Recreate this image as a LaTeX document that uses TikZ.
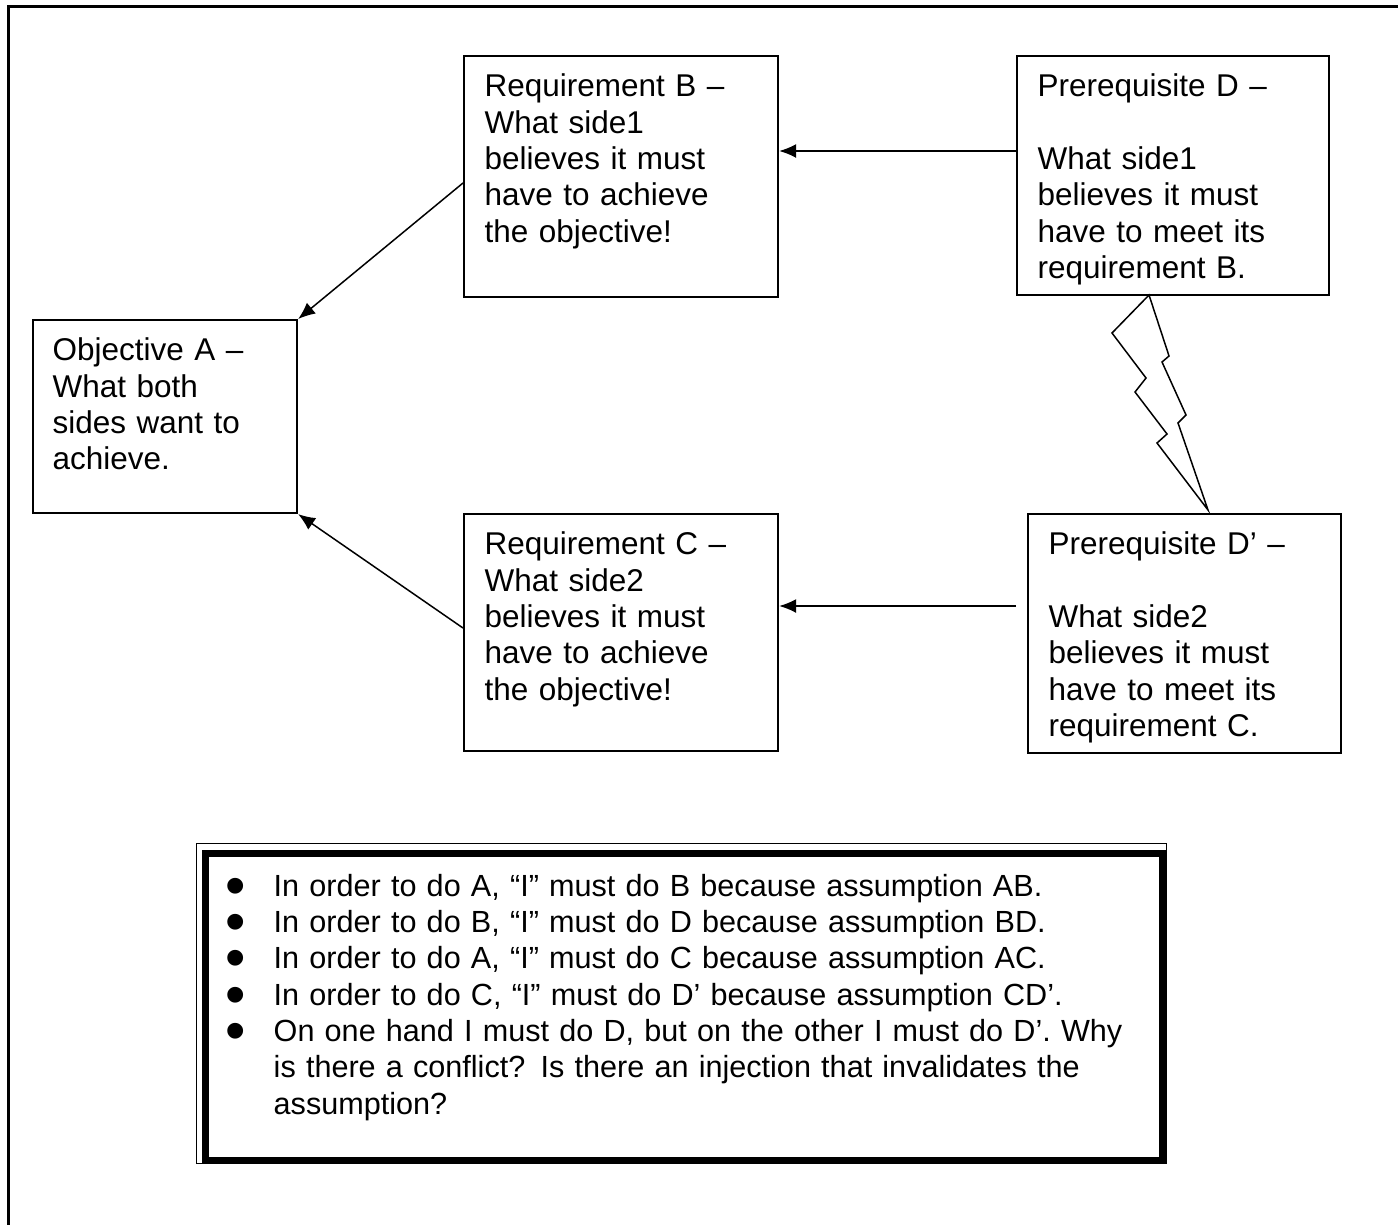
\documentclass[tikz,border=0pt]{standalone}
\usepackage{fontspec}
\usepackage{graphicx}
\setmainfont{Liberation Sans}
\usetikzlibrary{arrows.meta}
\newcommand\listmark{\makebox[0.48cm][l]{\raisebox{-0.09cm}{\scalebox{1.9}{\textbullet}}}}
\newcommand\listgap{\hspace*{0.48cm}}
\begin{document}
\begin{tikzpicture}[x=0.01cm,y=-0.01cm,
  box/.style={draw, line width=0.02cm, anchor=north west, inner sep=0pt},
  txt/.style={anchor=north west, inner sep=0pt, align=left, text width=3.4cm,
    font=\fontsize{8.95}{10.33}\selectfont},
  arr/.style={line width=0.015cm, -{Latex[length=0.17cm,width=0.14cm]}},
  bolt/.style={line width=0.015cm, line join=miter},
]
\useasboundingbox (0,0) rectangle (1398,1224);
\clip (0,0) rectangle (1398,1224);

% page frame (only its top and left sides fall inside the picture)
\draw[line width=0.028cm] (8.3,6.7) rectangle (1430,1250);

% boxes
\node[box, minimum width=3.14cm, minimum height=2.41cm] (B) at (463,55) {};
\node[box, minimum width=3.12cm, minimum height=2.39cm] (D) at (1016,55) {};
\node[box, minimum width=2.64cm, minimum height=1.93cm] (A) at (32,319) {};
\node[box, minimum width=3.14cm, minimum height=2.37cm] (C) at (463,513) {};
\node[box, minimum width=3.13cm, minimum height=2.39cm] (Dp) at (1027,513) {};

% box texts
\node[txt] (Bt) at (484,70.6) {\strut Requirement B –\\What side1\\believes it must\\have to achieve\\the objective!};
\node[txt] (Dt) at (1037,70.6) {\strut Prerequisite D –\\[10.33pt]What side1\\believes it must\\have to meet its\\requirement B.};
\node[txt] (At) at (52,334.6) {\strut Objective A –\\What both\\sides want to\\achieve.};
\node[txt] (Ct) at (484,528.6) {\strut Requirement C –\\What side2\\believes it must\\have to achieve\\the objective!};
\node[txt] (Dpt) at (1048,528.6) {\strut Prerequisite D’ –\\[10.33pt]What side2\\believes it must\\have to meet its\\requirement C.};

% connectors
\coordinate (yDB) at (0,151);
\coordinate (yDC) at (0,606);
\coordinate (yBA) at (0,183);
\coordinate (yCA) at (0,628);
\coordinate (DpGap) at ([xshift=-0.11cm]Dp.west);
\draw[arr] (D.west |- yDB) -- (B.east |- yDB);
\draw[arr] (DpGap |- yDC) -- (C.east |- yDC);
\draw[arr] (B.west |- yBA) -- (A.north east);
\draw[arr] (C.west |- yCA) -- (A.south east);

% conflict bolt between D and D'
\draw[bolt] (1149,295) -- (1112,333) -- (1146,378) -- (1135,392) -- (1167,434)
  -- (1157,443) -- (1208,510) -- (1178,423) -- (1186,415) -- (1162,362)
  -- (1169,356) -- cycle;

% assumptions box with double border
\node[draw, line width=0.012cm, anchor=north west, inner sep=0pt,
  minimum width=9.695cm, minimum height=3.205cm] (Lout) at (195.5,842.5) {};
\node[draw, line width=0.07cm, anchor=north west, inner sep=0pt,
  minimum width=9.565cm, minimum height=3.07cm] (Lin) at (202,850) {};
\node[txt, text width=9.3cm, font=\fontsize{8.7}{10.33}\selectfont] (Lt) at (225,870) {\strut\listmark In order to do A, “I” must do B because assumption AB.\\
\listmark In order to do B, “I” must do D because assumption BD.\\
\listmark In order to do A, “I” must do C because assumption AC.\\
\listmark In order to do C, “I” must do D’ because assumption CD’.\\
\listmark On one hand I must do D, but on the other I must do D’. Why\\
\listgap is there a conflict? Is there an injection that invalidates the\\
\listgap assumption?};
\end{tikzpicture}
\end{document}
